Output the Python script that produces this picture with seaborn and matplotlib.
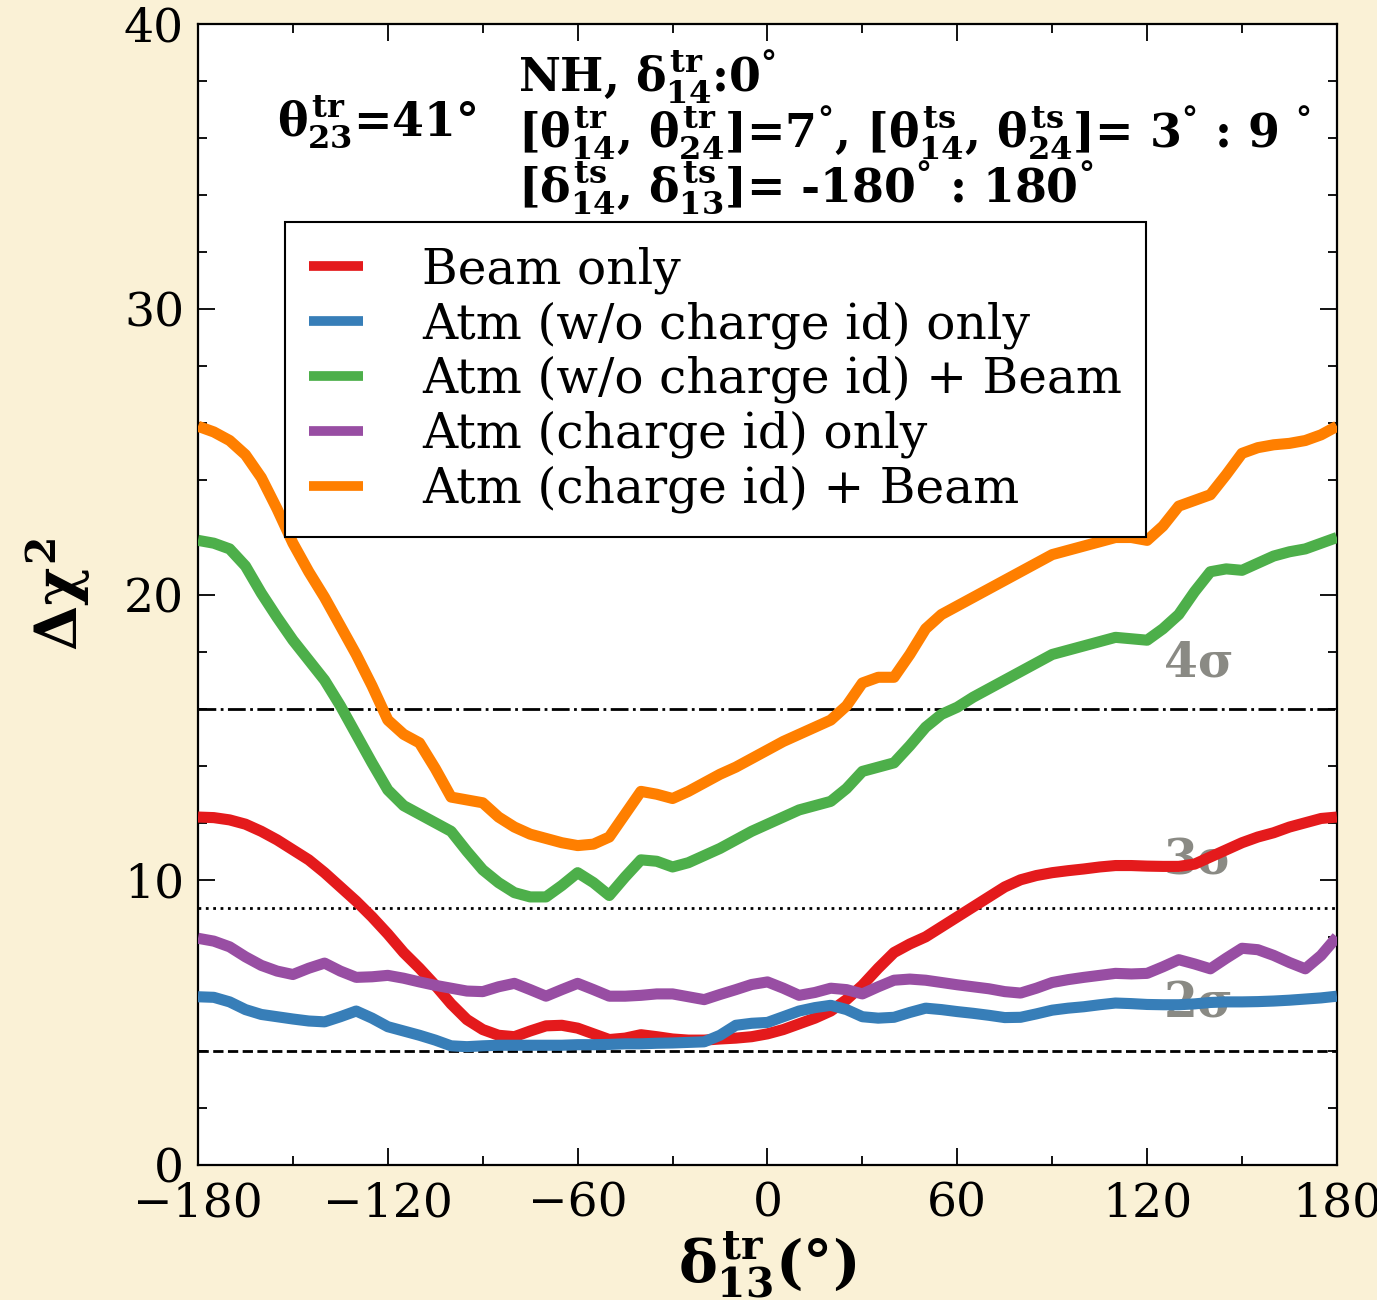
import numpy as np
import pandas as pd
import matplotlib
matplotlib.use("Agg")
import matplotlib.pyplot as plt
import seaborn as sns
from matplotlib.ticker import MultipleLocator

# delta_13 (true) grid in degrees
delta13 = list(range(-180, 181, 5))

beam_only = [12.2, 12.18, 12.1, 11.95, 11.7, 11.4, 11.05, 10.7, 10.25, 9.75,
             9.25, 8.7, 8.1, 7.45, 6.9, 6.3, 5.65, 5.1, 4.75, 4.55,
             4.5, 4.7, 4.88, 4.9, 4.8, 4.6, 4.4, 4.45, 4.57, 4.5,
             4.42, 4.38, 4.38, 4.42, 4.45, 4.5, 4.6, 4.75, 4.95, 5.15,
             5.4, 5.8, 6.3, 6.9, 7.45, 7.75, 8.0, 8.35, 8.7, 9.05,
             9.4, 9.75, 10.0, 10.15, 10.25, 10.32, 10.38, 10.45, 10.5, 10.5,
             10.48, 10.47, 10.47, 10.55, 10.8, 11.05, 11.3, 11.5, 11.65, 11.85,
             12.0, 12.15, 12.2]

atm_nocid = [5.9, 5.88, 5.72, 5.45, 5.28, 5.2, 5.12, 5.05, 5.02, 5.2,
             5.4, 5.15, 4.85, 4.7, 4.55, 4.38, 4.18, 4.15, 4.18, 4.2,
             4.2, 4.2, 4.2, 4.2, 4.22, 4.22, 4.23, 4.25, 4.25, 4.27,
             4.28, 4.3, 4.32, 4.55, 4.9, 4.97, 5.0, 5.2, 5.4, 5.52,
             5.6, 5.45, 5.2, 5.15, 5.18, 5.35, 5.5, 5.45, 5.38, 5.32,
             5.25, 5.17, 5.18, 5.3, 5.43, 5.5, 5.55, 5.62, 5.68, 5.66,
             5.63, 5.62, 5.62, 5.65, 5.7, 5.72, 5.72, 5.73, 5.75, 5.78,
             5.82, 5.86, 5.92]

atm_nocid_beam = [21.9, 21.8, 21.6, 21.0, 20.05, 19.2, 18.4, 17.7, 17.0, 16.1,
                  15.1, 14.1, 13.15, 12.6, 12.3, 12.0, 11.7, 11.0, 10.35, 9.9,
                  9.55, 9.4, 9.4, 9.8, 10.25, 9.9, 9.45, 10.1, 10.7, 10.65,
                  10.45, 10.6, 10.85, 11.1, 11.4, 11.7, 11.95, 12.2, 12.45, 12.6,
                  12.75, 13.2, 13.8, 13.95, 14.1, 14.7, 15.35, 15.8, 16.05, 16.4,
                  16.7, 17.0, 17.3, 17.6, 17.9, 18.05, 18.2, 18.35, 18.5, 18.45,
                  18.4, 18.8, 19.3, 20.1, 20.8, 20.9, 20.85, 21.1, 21.35, 21.5,
                  21.6, 21.8, 22.0]

atm_cid = [7.95, 7.85, 7.65, 7.3, 7.0, 6.8, 6.68, 6.9, 7.08, 6.8,
           6.58, 6.6, 6.65, 6.55, 6.42, 6.3, 6.2, 6.1, 6.08, 6.25,
           6.37, 6.15, 5.92, 6.15, 6.37, 6.15, 5.92, 5.92, 5.95, 6.0,
           6.0, 5.9, 5.8, 5.98, 6.15, 6.33, 6.42, 6.2, 5.95, 6.05,
           6.2, 6.15, 6.0, 6.25, 6.48, 6.52, 6.48, 6.4, 6.32, 6.25,
           6.18, 6.08, 6.03, 6.2, 6.4, 6.5, 6.58, 6.65, 6.72, 6.7,
           6.72, 6.95, 7.2, 7.05, 6.88, 7.25, 7.6, 7.55, 7.35, 7.1,
           6.88, 7.35, 8.0]

atm_cid_beam = [25.9, 25.7, 25.4, 24.9, 24.1, 23.0, 21.8, 20.8, 19.9, 18.9,
                17.9, 16.8, 15.6, 15.1, 14.8, 13.9, 12.9, 12.8, 12.7, 12.2,
                11.85, 11.6, 11.45, 11.3, 11.2, 11.25, 11.5, 12.3, 13.1, 13.0,
                12.85, 13.1, 13.4, 13.7, 13.95, 14.25, 14.55, 14.85, 15.1, 15.35,
                15.6, 16.1, 16.9, 17.1, 17.1, 17.9, 18.8, 19.3, 19.6, 19.9,
                20.2, 20.5, 20.8, 21.1, 21.4, 21.55, 21.7, 21.85, 22.0, 22.0,
                21.9, 22.4, 23.1, 23.3, 23.5, 24.2, 24.95, 25.15, 25.25, 25.3,
                25.4, 25.6, 25.9]

labels = ["Beam only", "Atm (w/o charge id) only", "Atm (w/o charge id) + Beam",
          "Atm (charge id) only", "Atm (charge id) + Beam"]
colors = ["#e41a1c", "#377eb8", "#4daf4a", "#984ea3", "#ff7f00"]
series = [beam_only, atm_nocid, atm_nocid_beam, atm_cid, atm_cid_beam]

# significance levels
sigma_levels = [4, 9, 16]
sigma_styles = ["--", ":", "-."]
sigma_text = ["2σ", "3σ", "4σ"]
sigma_text_y = [5.65, 10.65, 17.6]

sns.set_theme(style="ticks")
plt.rcParams.update({
    "font.family": ["DejaVu Serif"],
    "mathtext.fontset": "custom",
    "mathtext.rm": "DejaVu Serif:bold",
    "mathtext.it": "DejaVu Serif:bold",
    "mathtext.bf": "DejaVu Serif:bold",
    "mathtext.sf": "DejaVu Serif:bold",
    "axes.unicode_minus": True,
    "text.color": "black",
    "axes.labelcolor": "black",
    "xtick.color": "black",
    "ytick.color": "black",
    "xtick.labelcolor": "black",
    "ytick.labelcolor": "black",
})

bg = "#faf1d6"
fig = plt.figure(figsize=(13.77, 13.0), dpi=100, facecolor=bg)
ax = fig.add_axes([0.1438, 0.1038, 0.8271, 0.8777])
ax.set_facecolor("white")

df = pd.DataFrame({"delta": delta13 * len(series),
                   "chi2": sum(series, []),
                   "case": sum([[lab] * len(delta13) for lab in labels], [])})

for lab, col in zip(labels, colors):
    sns.lineplot(data=df[df["case"] == lab], x="delta", y="chi2", color=col,
                 lw=8, label=lab, ax=ax, zorder=3, estimator=None,
                 solid_joinstyle="round", solid_capstyle="butt")

for lvl, ls in zip(sigma_levels, sigma_styles):
    ax.axhline(lvl, color="black", ls=ls, lw=2, zorder=2)

for txt, yy in zip(sigma_text, sigma_text_y):
    ax.text(125.3, yy, txt, color="#8a8a84", fontsize=35, fontweight="bold",
            ha="left", va="center", zorder=1)

ax.set_xlim(-180, 180)
ax.set_ylim(0, 40)
ax.xaxis.set_major_locator(MultipleLocator(60))
ax.xaxis.set_minor_locator(MultipleLocator(30))
ax.yaxis.set_major_locator(MultipleLocator(10))
ax.yaxis.set_minor_locator(MultipleLocator(2))
ax.tick_params(which="both", direction="in", top=True, right=True, width=1.3,
               colors="black")
ax.tick_params(which="major", length=12, labelsize=34)
ax.tick_params(which="minor", length=6.5)
ax.tick_params(axis="x", which="major", pad=12)
ax.tick_params(axis="y", which="major", pad=10)
for sp in ax.spines.values():
    sp.set_color("black")
    sp.set_linewidth(1.6)

ax.set_xlabel(r"$\delta^{tr}_{13}$(°)", fontsize=42, fontweight="bold", labelpad=2)
ax.set_ylabel(r"$\Delta\chi^{2}$", fontsize=42, fontweight="bold", labelpad=22)

note_fs = 33
ax.text(-154.9, 36.56, r"$\theta^{tr}_{23}$=41°", fontsize=note_fs, fontweight="bold",
        ha="left", va="center")
ax.text(-79.0, 38.14, r"NH, $\delta^{tr}_{14}$:0$^{°}$", fontsize=note_fs,
        fontweight="bold", ha="left", va="center")
ax.text(-79.0, 36.18,
        r"[$\theta^{tr}_{14}$, $\theta^{tr}_{24}$]=7$^{°}$, [$\theta^{ts}_{14}$, $\theta^{ts}_{24}$]= 3$^{°}$ : 9 $^{°}$",
        fontsize=note_fs, fontweight="bold", ha="left", va="center")
ax.text(-79.0, 34.25,
        r"[$\delta^{ts}_{14}$, $\delta^{ts}_{13}$]= -180$^{°}$ : 180$^{°}$",
        fontsize=note_fs, fontweight="bold", ha="left", va="center")

leg = ax.legend(loc="upper left", bbox_to_anchor=(0.0764, 0.8265),
                borderaxespad=0, fontsize=35, frameon=True, fancybox=False,
                edgecolor="black", framealpha=1, handlelength=1.1,
                handletextpad=1.22, labelspacing=0.15, borderpad=0.5)
leg.get_frame().set_linewidth(1.5)
for h in leg.get_lines():
    h.set_linewidth(7)
    h.set_solid_capstyle("butt")

fig.savefig("out.png", dpi=100, facecolor=bg)
